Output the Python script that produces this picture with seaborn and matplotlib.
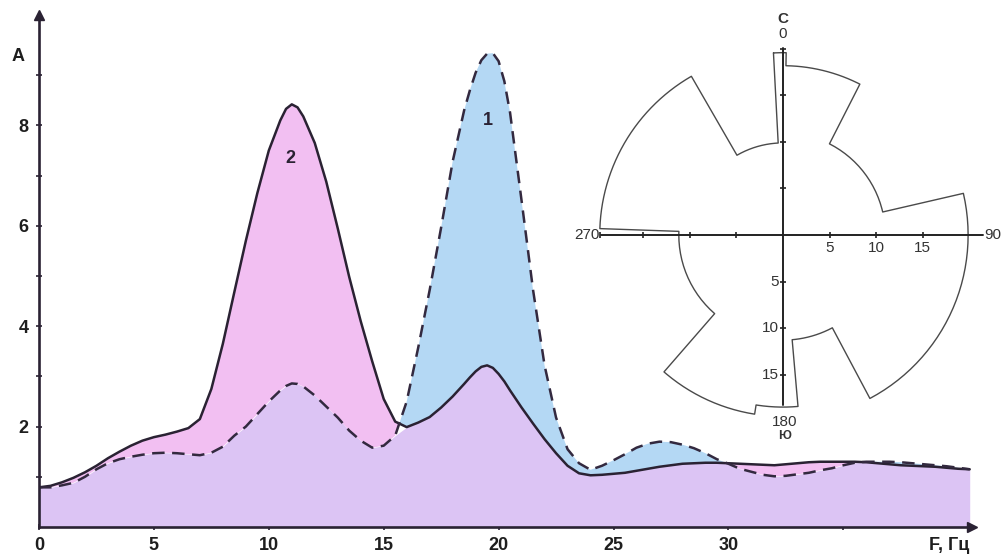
import numpy as np
import pandas as pd
import matplotlib
matplotlib.use("Agg")
import matplotlib.pyplot as plt
import seaborn as sns

# ---------------- data ----------------
freq = [
    0.0, 0.5, 1.0, 1.5, 2.0, 2.5, 3.0, 3.5, 4.0, 4.5,
    5.0, 5.5, 6.0, 6.5, 7.0, 7.5, 8.0, 8.5, 9.0, 9.5,
    10.0, 10.5, 10.75, 11.0, 11.25, 11.5, 12.0, 12.5, 13.0, 13.5, 14.0, 14.5,
    15.0, 15.5, 16.0, 16.5, 17.0, 17.5, 18.0, 18.5, 18.75, 19.0, 19.25, 19.5,
    19.75, 20.0, 20.25, 20.5, 21.0, 21.5, 22.0, 22.5, 23.0, 23.5, 24.0, 24.5,
    25.0, 25.5, 26.0, 26.5, 27.0, 27.5, 28.0, 28.5, 29.0, 29.5,
    30.0, 30.5, 31.0, 31.5, 32.0, 32.5, 33.0, 33.5, 34.0, 34.5,
    35.0, 35.5, 36.0, 36.5, 37.0, 37.5, 38.0, 38.5, 39.0, 39.5,
    40.0, 40.5,
]

amp_curve2 = [  # solid line, label "2"
    0.79, 0.82, 0.89, 0.98, 1.09, 1.22, 1.37, 1.50, 1.62, 1.72,
    1.79, 1.84, 1.90, 1.97, 2.15, 2.75, 3.65, 4.68, 5.70, 6.65,
    7.50, 8.10, 8.33, 8.42, 8.36, 8.18, 7.65, 6.88, 5.95, 4.98, 4.10, 3.30,
    2.55, 2.10, 1.99, 2.08, 2.19, 2.38, 2.60, 2.85, 2.98, 3.10, 3.19, 3.22,
    3.17, 3.05, 2.90, 2.72, 2.38, 2.06, 1.75, 1.47, 1.22, 1.07, 1.03, 1.04,
    1.06, 1.08, 1.12, 1.16, 1.20, 1.23, 1.26, 1.27, 1.28, 1.28,
    1.27, 1.26, 1.25, 1.24, 1.23, 1.25, 1.27, 1.29, 1.30, 1.30,
    1.30, 1.30, 1.29, 1.27, 1.25, 1.23, 1.22, 1.21, 1.20, 1.18,
    1.16, 1.15,
]

amp_curve1 = [  # dashed line, label "1"
    0.79, 0.79, 0.83, 0.88, 1.00, 1.15, 1.27, 1.35, 1.40, 1.44,
    1.47, 1.48, 1.47, 1.45, 1.43, 1.48, 1.60, 1.82, 2.00, 2.25,
    2.50, 2.72, 2.81, 2.86, 2.85, 2.80, 2.62, 2.40, 2.18, 1.92, 1.72, 1.58,
    1.62, 1.82, 2.50, 3.57, 4.72, 5.97, 7.28, 8.30, 8.70, 9.05, 9.30, 9.43,
    9.44, 9.28, 8.88, 8.25, 6.50, 4.72, 3.22, 2.18, 1.55, 1.27, 1.14, 1.22,
    1.33, 1.45, 1.58, 1.66, 1.70, 1.69, 1.64, 1.57, 1.47, 1.35,
    1.26, 1.16, 1.10, 1.04, 1.01, 1.02, 1.05, 1.08, 1.13, 1.17,
    1.23, 1.28, 1.30, 1.30, 1.30, 1.29, 1.27, 1.25, 1.23, 1.21,
    1.18, 1.15,
]

x_ticks = [0, 5, 10, 15, 20, 25, 30, 35]
x_ticklabels = ["0", "5", "10", "15", "20", "25", "30", ""]
y_ticks = [2, 4, 6, 8]
y_minor = [1, 3, 5, 7, 9]

# wind-rose inset: sector edges (compass degrees) and radii
rose_edges = [-3, 1, 27, 77, 152, 175, 189, 221, 272, 330, 357]
rose_radii = [19.6, 18.2, 11.0, 19.9, 11.3, 18.5, 19.5, 11.2, 19.7, 9.9]
rose_ticks = [5, 10, 15]

# ---------------- style ----------------
sns.set_style("white")
plt.rcParams["font.family"] = ["Liberation Sans", "DejaVu Sans"]

INK = "#2a2233"
PINK = "#f2bff2"
BLUE = "#b4d8f4"
LAV = "#dcc4f4"

fig = plt.figure(figsize=(10.07, 5.54), dpi=100)
ax = fig.add_axes([39 / 1007, 27 / 554, 933 / 1007, 512 / 554])

df = pd.DataFrame({"F": freq, "A1": amp_curve1, "A2": amp_curve2})
f = df["F"].to_numpy()
a1 = df["A1"].to_numpy()
a2 = df["A2"].to_numpy()
low = np.minimum(a1, a2)

ax.fill_between(f, 0, low, color=LAV, lw=0, zorder=1)
ax.fill_between(f, a1, a2, where=a2 >= a1, interpolate=True, color=PINK, lw=0, zorder=1)
ax.fill_between(f, a2, a1, where=a1 >= a2, interpolate=True, color=BLUE, lw=0, zorder=1)

sns.lineplot(data=df, x="F", y="A2", ax=ax, color=INK, lw=1.8, zorder=3)
sns.lineplot(data=df, x="F", y="A1", ax=ax, color="#33293f", lw=1.8, zorder=3)
ax.lines[-1].set_dashes((5, 3))
for ln in ax.lines:
    ln.set_solid_joinstyle("round")
    ln.set_dash_joinstyle("round")

ax.set_xlim(0, 40.6)
ax.set_ylim(0, 10.2)
ax.set_xlabel("")
ax.set_ylabel("")

for s in ["top", "right"]:
    ax.spines[s].set_visible(False)
for s in ["left", "bottom"]:
    ax.spines[s].set_color(INK)
    ax.spines[s].set_linewidth(1.9)
    ax.spines[s].set_zorder(4)

ax.plot(1, 0, marker=">", color=INK, markersize=7, transform=ax.transAxes, clip_on=False, zorder=5)
ax.plot(0, 1, marker="^", color=INK, markersize=7, transform=ax.transAxes, clip_on=False, zorder=5)

ax.set_xticks(x_ticks)
ax.set_xticklabels(x_ticklabels)
ax.set_yticks(y_ticks)
ax.set_yticks(y_minor, minor=True)
ax.tick_params(axis="both", which="both", direction="inout", length=5, width=1.2,
               color=INK, labelsize=13, labelcolor="#1e1e1e")
ax.tick_params(axis="x", pad=5, bottom=True)
ax.tick_params(axis="y", pad=5, left=True)
ax.tick_params(axis="y", which="minor", left=True)
for lab in ax.get_xticklabels() + ax.get_yticklabels():
    lab.set_fontweight("bold")

ax.text(-0.65, 9.38, "A", fontsize=13, fontweight="bold", ha="right", va="center", color="#1e1e1e")
ax.text(39.6, -0.36, "F, Гц", fontsize=13, fontweight="bold", ha="center", va="center",
        color="#1e1e1e", clip_on=False)
ax.text(19.52, 8.09, "1", fontsize=13, fontweight="bold", ha="center", va="center", color=INK, zorder=6)
ax.text(10.96, 7.34, "2", fontsize=13, fontweight="bold", ha="center", va="center", color=INK, zorder=6)

# ---------------- inset rose ----------------
rmax = 21.5
axr = fig.add_axes([583 / 1007, 119 / 554, 400 / 1007, 400 / 554], projection="polar")
axr.set_theta_zero_location("N")
axr.set_theta_direction(-1)
axr.set_ylim(0, rmax)
axr.set_axis_off()
axr.patch.set_alpha(0)

th_all, r_all = [], []
for i, r in enumerate(rose_radii):
    t = np.linspace(rose_edges[i], rose_edges[i + 1], 30)
    th_all.append(np.deg2rad(t))
    r_all.append(np.full_like(t, r, dtype=float))
th_all.append(th_all[0][:1])
r_all.append(r_all[0][:1])
axr.plot(np.concatenate(th_all), np.concatenate(r_all), color="#4a4a4a", lw=1.0, clip_on=False)

AX_C = "#222222"
up, right, down, left = 0.0, np.pi / 2, np.pi, 3 * np.pi / 2
axr.plot([up, up], [0, 20.1], color=AX_C, lw=1.4, clip_on=False)
axr.plot([right, right], [0, 21.5], color=AX_C, lw=1.4, clip_on=False)
axr.plot([down, down], [0, 18.3], color=AX_C, lw=1.4, clip_on=False)
axr.plot([left, left], [0, 19.6], color=AX_C, lw=1.4, clip_on=False)

tk = [5, 10, 15, 20]
axr.plot([up] * 4, tk, ls="none", marker="_", ms=4, mew=1.2, color=AX_C, clip_on=False)
axr.plot([left] * 4, [5, 10, 15, 19.7], ls="none", marker="|", ms=4, mew=1.2, color=AX_C, clip_on=False)
axr.plot([right] * 3, rose_ticks, ls="none", marker="|", ms=4, mew=1.2, color=AX_C, clip_on=False)
axr.plot([down] * 3, rose_ticks, ls="none", marker="_", ms=4, mew=1.2, color=AX_C, clip_on=False)

TXT = "#333333"
fs = 11
for v in rose_ticks:
    axr.annotate(str(v), xy=(right, v), xytext=(0, -9.5), textcoords="offset points",
                 ha="center", va="center", fontsize=fs, color=TXT)
    axr.annotate(str(v), xy=(down, v), xytext=(-3, 0), textcoords="offset points",
                 ha="right", va="center", fontsize=fs, color=TXT)
axr.annotate("270", xy=(left, 19.6), xytext=(-1, 0), textcoords="offset points",
             ha="right", va="center", fontsize=fs, color=TXT)
axr.annotate("90", xy=(right, 21.5), xytext=(1, 0), textcoords="offset points",
             ha="left", va="center", fontsize=fs, color=TXT)
axr.annotate("0", xy=(up, 20.1), xytext=(0, 10), textcoords="offset points",
             ha="center", va="center", fontsize=fs, color=TXT)
axr.annotate("С", xy=(up, 20.1), xytext=(0, 21), textcoords="offset points",
             ha="center", va="center", fontsize=fs, fontweight="bold", color=TXT)
axr.annotate("180", xy=(down, 18.3), xytext=(1, -12), textcoords="offset points",
             ha="center", va="center", fontsize=fs, color=TXT)
axr.annotate("Ю", xy=(down, 18.3), xytext=(1, -22), textcoords="offset points",
             ha="center", va="center", fontsize=9, fontweight="bold", color=TXT)

fig.savefig("out.png", dpi=100)
